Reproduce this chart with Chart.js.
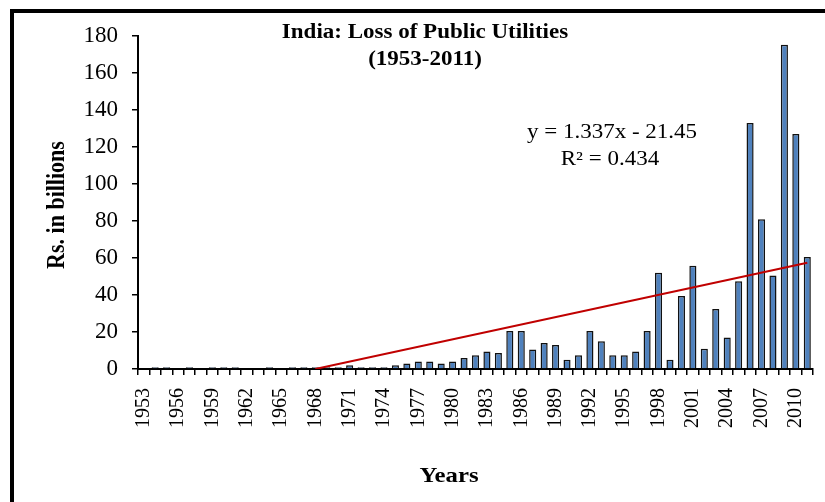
<!DOCTYPE html>
<html>
<head>
<meta charset="utf-8">
<script src="https://cdn.jsdelivr.net/npm/chart.js@4"></script>
<style>
  html, body { margin: 0; padding: 0; background: #fff; }
  #wrap { width: 825px; height: 502px; position: relative; }
</style>
</head>
<body>
<div id="wrap"><canvas id="lossChart" width="825" height="502"></canvas></div>
<script>
const years = [];
for (let y = 1953; y <= 2011; y++) years.push(String(y));

// Rs. in billions
const losses = [
    0, 1, 1, 0, 1, 0, 1, 1, 1, 0,          // 1953-1962
    0, 1, 0, 1, 1, 1, 1, 1, 2, 1,          // 1963-1972
    1, 1, 2, 3, 4, 4, 3, 4, 6, 7.5,        // 1973-1982
    9.5, 8.6, 20.5, 20.5, 10.5, 14, 13, 5, 7.5, 20.5,   // 1983-1992
    15, 7.5, 7.5, 9.5, 20.5, 52, 5, 39.5, 55.8, 11,     // 1993-2002
    32.5, 17, 47.5, 133, 81, 50.5, 175.3, 127, 60.5     // 2003-2011
];

// linear trendline end points (1968 -> 2011)
const trendYears = ['1968', '2011'];
const trendValues = [0, 57.4];

const trendData = years.map(y => {
    const k = trendYears.indexOf(y);
    return k >= 0 ? trendValues[k] : null;
});

const titleLines = ['India: Loss of Public Utilities', '(1953-2011)'];
const equationLines = ['y = 1.337x - 21.45', 'R\u00b2 = 0.434'];

const serif = '"Liberation Serif", "Times New Roman", serif';

// text in the source picture is a bit wide, so stretch it horizontally
function wideText(c, str, x, y, font, sx) {
    c.save();
    c.font = font;
    c.translate(x, y);
    c.scale(sx, 1);
    c.fillText(str, 0, 0);
    c.restore();
}

const textPlugin = {
    id: 'textPlugin',
    beforeDraw(chart) {
        const c = chart.ctx;
        c.save();
        c.fillStyle = '#000';
        // outer frame (top + left)
        c.fillRect(10, 9, 825, 4);
        c.fillRect(10, 9, 4, 502);
        c.restore();
    },
    afterDraw(chart) {
        const c = chart.ctx;
        c.save();
        c.fillStyle = '#000';
        c.textAlign = 'center';
        c.textBaseline = 'middle';

        wideText(c, titleLines[0], 425, 33, 'bold 20px ' + serif, 1.15);
        wideText(c, titleLines[1], 425, 60, 'bold 20px ' + serif, 1.15);

        wideText(c, equationLines[0], 612, 133, '20px ' + serif, 1.15);
        wideText(c, equationLines[1], 610, 160, '20px ' + serif, 1.15);

        wideText(c, 'Years', 449, 477, 'bold 21px ' + serif, 1.18);

        c.translate(58, 205);
        c.rotate(-Math.PI / 2);
        c.font = 'bold 22px ' + serif;
        c.scale(1, 1.12);
        c.fillText('Rs. in billions', 0, 0);
        c.restore();
    }
};

const ctx = document.getElementById('lossChart').getContext('2d');
const chart = new Chart(ctx, {
    type: 'bar',
    data: {
        labels: years,
        datasets: [
            {
                label: 'Loss',
                data: losses,
                backgroundColor: '#4F81BD',
                borderColor: '#111',
                borderWidth: 1.5,
                barPercentage: 0.62,
                categoryPercentage: 1.0,
                order: 2
            },
            {
                type: 'line',
                label: 'Linear trend',
                data: trendData,
                borderColor: '#C00000',
                borderWidth: 2,
                pointRadius: 0,
                spanGaps: true,
                fill: false,
                order: 1
            }
        ]
    },
    options: {
        responsive: false,
        animation: false,
        layout: { padding: { left: 0, top: 36, right: 12, bottom: 0 } },
        plugins: {
            legend: { display: false },
            tooltip: { enabled: false }
        },
        scales: {
            x: {
                offset: true,
                grid: {
                    offset: true,
                    drawOnChartArea: false,
                    drawTicks: true,
                    tickLength: 6,
                    color: '#000',
                    lineWidth: 1.5
                },
                border: { display: true, color: '#000', width: 2 },
                ticks: {
                    autoSkip: false,
                    maxRotation: 90,
                    minRotation: 90,
                    padding: 13,
                    color: '#000',
                    font: { family: serif, size: 20 },
                    callback: function(v, i) {
                        return i % 3 === 0 ? years[i] : '';
                    }
                },
                afterFit: s => {
                    s.height = 133;
                    s.paddingLeft = 0;
                    s.paddingRight = 0;
                }
            },
            y: {
                min: 0,
                max: 180,
                grid: {
                    drawOnChartArea: false,
                    drawTicks: true,
                    tickLength: 6,
                    color: '#000',
                    lineWidth: 1.5
                },
                border: { display: true, color: '#000', width: 2 },
                ticks: {
                    stepSize: 20,
                    padding: 14,
                    color: '#000',
                    font: { family: serif, size: 23 }
                },
                afterFit: s => { s.width = 138; }
            }
        }
    },
    plugins: [textPlugin]
});
</script>
</body>
</html>
